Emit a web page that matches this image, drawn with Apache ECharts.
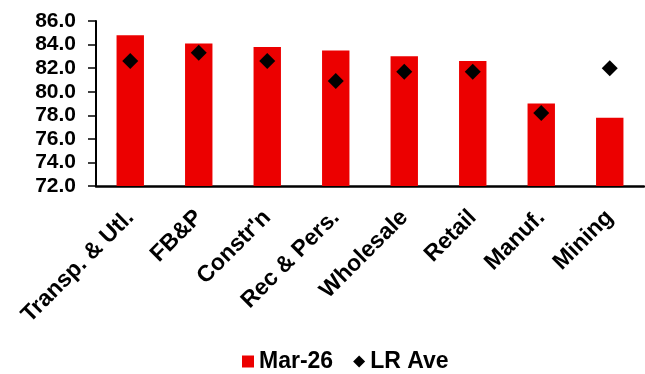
<!DOCTYPE html>
<html>
<head>
<meta charset="utf-8">
<script src="https://cdn.jsdelivr.net/npm/echarts@6/dist/echarts.min.js"></script>
<style>
  html, body { margin: 0; padding: 0; background: #fff; }
  #chart { width: 645px; height: 374px; }
</style>
</head>
<body>
<div id="chart"></div>
<script>
// Industry categories and their readings
const categories = ['Transp. & Utl.', 'FB&P', "Constr'n", 'Rec & Pers.', 'Wholesale', 'Retail', 'Manuf.', 'Mining'];
const mar26 = [84.8, 84.1, 83.8, 83.5, 83.0, 82.6, 79.0, 77.8];
const lrAve = [82.6, 83.3, 82.6, 80.9, 81.7, 81.7, 78.2, 82.0];
const seriesNames = ['Mar-26', 'LR Ave'];

const FONT = '"Liberation Sans", Arial, sans-serif';
const chart = echarts.init(document.getElementById('chart'));

chart.setOption({
  animation: false,
  grid: { left: 96, right: 1, top: 21, bottom: 188, containLabel: false },
  legend: {
    left: 237,
    top: 345,
    itemWidth: 12,
    itemHeight: 12,
    itemGap: 20,
    textStyle: { fontFamily: FONT, fontWeight: 'bold', fontSize: 23, color: '#000' },
    data: [
      { name: seriesNames[0], icon: 'rect' },
      { name: seriesNames[1], icon: 'diamond' }
    ]
  },
  xAxis: {
    type: 'category',
    data: categories,
    axisLine: { lineStyle: { color: '#000', width: 2.5 } },
    axisTick: { show: false },
    axisLabel: {
      rotate: 45,
      interval: 0,
      margin: 28,
      color: '#000',
      fontFamily: FONT,
      fontWeight: 'bold',
      fontSize: 23
    }
  },
  yAxis: {
    type: 'value',
    min: 72,
    max: 86,
    interval: 2,
    splitLine: { show: false },
    axisLine: { show: true, lineStyle: { color: '#000', width: 2 } },
    axisTick: { show: true, inside: false, length: 8, lineStyle: { color: '#000', width: 1.5 } },
    axisLabel: {
      margin: 20,
      color: '#000',
      fontFamily: FONT,
      fontWeight: 'bold',
      fontSize: 21,
      formatter: v => v.toFixed(1)
    }
  },
  series: [
    {
      name: seriesNames[0],
      type: 'bar',
      data: mar26,
      barWidth: '40%',
      itemStyle: { color: '#EC0000' }
    },
    {
      name: seriesNames[1],
      type: 'scatter',
      data: lrAve,
      symbol: 'diamond',
      symbolSize: 16,
      itemStyle: { color: '#000', opacity: 1 },
      z: 3
    }
  ]
});
</script>
</body>
</html>
